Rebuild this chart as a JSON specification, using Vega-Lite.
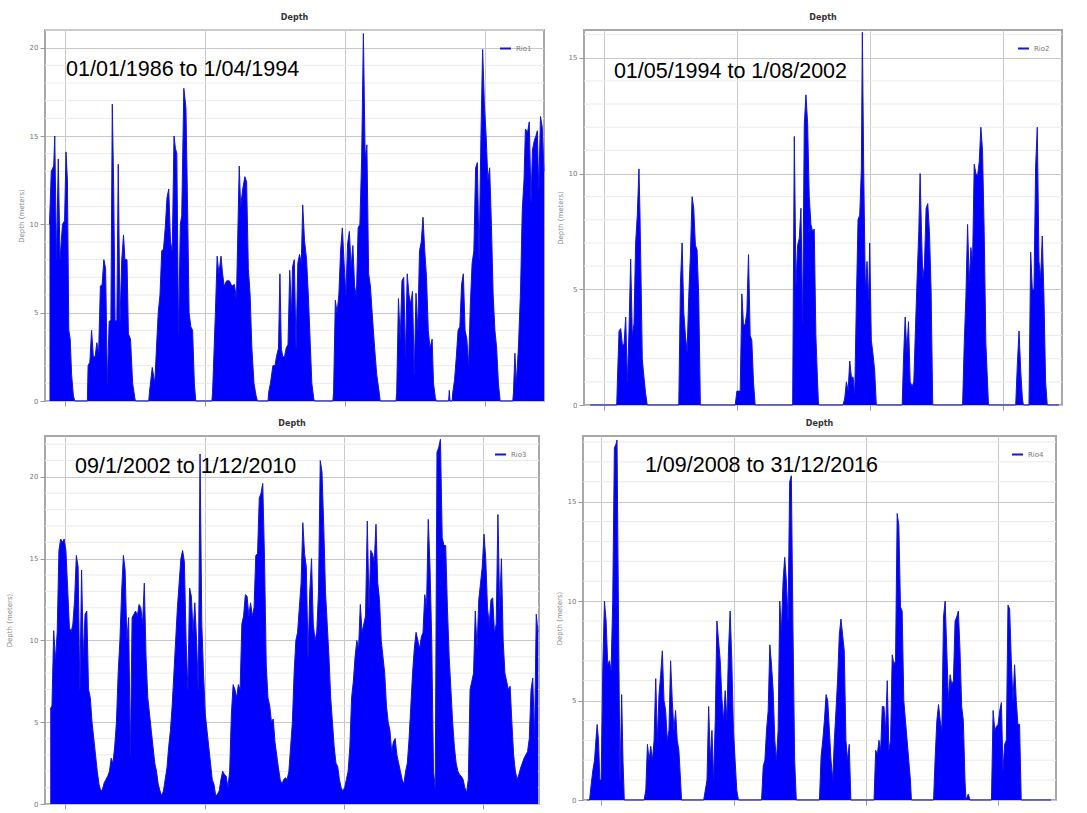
{
"$schema": "https://vega.github.io/schema/vega-lite/v6.json",
"padding": {"left": 4, "top": 12, "right": 5, "bottom": 0},
"background": "white",
"config": {
  "font": "DejaVu Sans",
  "view": {"stroke": "#a8a8a8", "strokeWidth": 2},
  "axis": {"labelFontSize": 7, "labelColor": "#777", "titleFontSize": 7, "titleFontWeight": "normal", "titleColor": "#888", "tickColor": "#999", "domain": false, "labelPadding": 2, "titlePadding": 5, "gridColor": "#c8c8c8", "tickSize": 5},
  "title": {"fontSize": 8, "fontWeight": "bold", "color": "#333", "offset": 8},
  "legend": {"labelFontSize": 7, "labelColor": "#777", "symbolType": "stroke", "symbolStrokeWidth": 2, "symbolSize": 120, "offset": 9, "padding": 3}
},
"datasets": {
"g1": [{"g":1},{"g":2},{"g":3},{"g":4},{"g":6},{"g":7},{"g":8},{"g":9},{"g":11},{"g":12},{"g":13},{"g":14},{"g":16},{"g":17},{"g":18},{"g":19},{"g":21}],
"g2": [{"g":1},{"g":2},{"g":3},{"g":4},{"g":6},{"g":7},{"g":8},{"g":9},{"g":11},{"g":12},{"g":13},{"g":14},{"g":16}],
"g3": [{"g":1},{"g":2},{"g":3},{"g":4},{"g":6},{"g":7},{"g":8},{"g":9},{"g":11},{"g":12},{"g":13},{"g":14},{"g":16},{"g":17},{"g":18},{"g":19},{"g":21},{"g":22}],
"g4": [{"g":1},{"g":2},{"g":3},{"g":4},{"g":6},{"g":7},{"g":8},{"g":9},{"g":11},{"g":12},{"g":13},{"g":14},{"g":16},{"g":17},{"g":18}],
"p1": [{"m":0,"d":10},{"m":0.35,"d":13},{"m":0.84,"d":13.3},{"m":1.05,"d":15},{"m":1.4,"d":8},{"m":1.75,"d":13.7},{"m":2.1,"d":8},{"m":2.59,"d":10},{"m":3.01,"d":10.2},{"m":3.29,"d":14.1},{"m":3.57,"d":12.5},{"m":3.85,"d":4},{"m":4.13,"d":3.5},{"m":4.41,"d":1.5},{"m":4.76,"d":0.3},{"m":5.04,"d":0},
{"m":7.56,"d":0},{"m":7.7,"d":2},{"m":8.05,"d":2.2},{"m":8.4,"d":4},{"m":8.75,"d":2.5},{"m":9.1,"d":2.5},{"m":9.45,"d":3.3},{"m":9.8,"d":2.7},{"m":10.15,"d":6.5},{"m":10.5,"d":6.6},{"m":10.85,"d":8},{"m":11.2,"d":7.5},{"m":11.55,"d":1},{"m":11.9,"d":4.5},{"m":12.25,"d":4.6},{"m":12.53,"d":16.8},{"m":12.81,"d":12},{"m":13.09,"d":4.5},{"m":13.44,"d":4.6},{"m":13.72,"d":13.4},{"m":14.07,"d":4.5},{"m":14.42,"d":8},{"m":14.77,"d":9.4},{"m":15.05,"d":8},{"m":15.47,"d":8},{"m":15.75,"d":3.8},{"m":16.17,"d":3.5},{"m":16.59,"d":1},{"m":17.01,"d":0.2},{"m":17.15,"d":0},
{"m":19.81,"d":0},{"m":19.95,"d":0.5},{"m":20.51,"d":1.9},{"m":21.0,"d":1},{"m":21.35,"d":3},{"m":21.7,"d":5},{"m":22.05,"d":6},{"m":22.4,"d":8.5},{"m":22.75,"d":8.6},{"m":23.1,"d":9.8},{"m":23.45,"d":11.5},{"m":23.8,"d":12},{"m":24.15,"d":9},{"m":24.5,"d":8.5},{"m":24.85,"d":15},{"m":25.13,"d":14.3},{"m":25.41,"d":14},{"m":25.76,"d":3.8},{"m":26.11,"d":10},{"m":26.39,"d":10.5},{"m":26.81,"d":17.7},{"m":27.23,"d":16.6},{"m":27.51,"d":11.9},{"m":27.86,"d":5},{"m":28.21,"d":4.2},{"m":28.56,"d":4},{"m":28.91,"d":1},{"m":29.19,"d":0},
{"m":32.41,"d":0},{"m":32.55,"d":0.5},{"m":33.11,"d":5},{"m":33.46,"d":8.2},{"m":33.81,"d":7.2},{"m":34.23,"d":8.2},{"m":34.51,"d":7.3},{"m":34.86,"d":6.5},{"m":35.35,"d":6.8},{"m":35.91,"d":6.8},{"m":36.4,"d":6.5},{"m":36.89,"d":6.6},{"m":37.31,"d":5.8},{"m":37.87,"d":13.3},{"m":38.15,"d":11},{"m":38.57,"d":12},{"m":38.99,"d":12.7},{"m":39.34,"d":12.4},{"m":39.69,"d":7.5},{"m":40.04,"d":6},{"m":40.39,"d":3},{"m":40.81,"d":1},{"m":41.23,"d":0.3},{"m":41.51,"d":0},
{"m":43.61,"d":0},{"m":43.75,"d":0.5},{"m":44.1,"d":1},{"m":44.59,"d":2},{"m":45.01,"d":2},{"m":45.29,"d":2.5},{"m":45.71,"d":3},{"m":45.99,"d":7.2},{"m":46.27,"d":3},{"m":46.55,"d":2.5},{"m":46.9,"d":2.5},{"m":47.25,"d":3},{"m":47.6,"d":3.2},{"m":47.95,"d":7.4},{"m":48.3,"d":5},{"m":48.51,"d":7.6},{"m":48.86,"d":8},{"m":49.21,"d":3},{"m":49.56,"d":7.8},{"m":49.91,"d":8.3},{"m":50.26,"d":7.8},{"m":50.54,"d":11.1},{"m":50.89,"d":9.1},{"m":51.31,"d":8},{"m":51.66,"d":6},{"m":52.01,"d":3.5},{"m":52.36,"d":1},{"m":52.71,"d":0.2},{"m":52.85,"d":0},
{"m":56.56,"d":0},{"m":56.7,"d":0.5},{"m":57.05,"d":5.7},{"m":57.4,"d":5},{"m":57.75,"d":6},{"m":58.1,"d":8.5},{"m":58.45,"d":9.8},{"m":58.8,"d":7.8},{"m":59.15,"d":6},{"m":59.5,"d":8.9},{"m":59.85,"d":9.6},{"m":60.2,"d":7.6},{"m":60.55,"d":8.8},{"m":60.9,"d":6.5},{"m":61.25,"d":5.9},{"m":61.6,"d":9.8},{"m":61.95,"d":10},{"m":62.3,"d":13.7},{"m":62.65,"d":20.8},{"m":63.0,"d":13.8},{"m":63.35,"d":14.5},{"m":63.7,"d":7.2},{"m":64.05,"d":6.5},{"m":64.4,"d":5},{"m":64.89,"d":3},{"m":65.31,"d":1.5},{"m":65.8,"d":0.5},{"m":66.01,"d":0},
{"m":69.16,"d":0},{"m":69.3,"d":0.5},{"m":69.65,"d":5.8},{"m":70.0,"d":3.5},{"m":70.35,"d":6.8},{"m":70.7,"d":7},{"m":71.05,"d":2.5},{"m":71.4,"d":7.2},{"m":71.75,"d":6},{"m":72.1,"d":5.5},{"m":72.45,"d":6.2},{"m":72.8,"d":1.5},{"m":73.15,"d":6.1},{"m":73.5,"d":4},{"m":73.85,"d":8.5},{"m":74.2,"d":9},{"m":74.55,"d":10.4},{"m":74.9,"d":8.5},{"m":75.25,"d":7},{"m":75.6,"d":4},{"m":75.95,"d":3},{"m":76.37,"d":3.5},{"m":76.65,"d":1},{"m":77.0,"d":0.2},{"m":77.21,"d":0},
{"m":79.66,"d":0},{"m":79.8,"d":0.6},{"m":79.94,"d":0},{"m":80.36,"d":0},{"m":80.5,"d":0.5},{"m":80.85,"d":1.2},{"m":81.2,"d":2.5},{"m":81.55,"d":4},{"m":81.9,"d":4.2},{"m":82.25,"d":6.6},{"m":82.6,"d":7.2},{"m":82.95,"d":4},{"m":83.3,"d":3.5},{"m":83.65,"d":2},{"m":84.0,"d":5.5},{"m":84.35,"d":7.8},{"m":84.7,"d":8.5},{"m":85.05,"d":13.2},{"m":85.4,"d":13.5},{"m":85.75,"d":8},{"m":86.1,"d":14.8},{"m":86.45,"d":19.9},{"m":86.8,"d":16.8},{"m":87.15,"d":15},{"m":87.5,"d":12.5},{"m":87.85,"d":13.2},{"m":88.2,"d":10},{"m":88.55,"d":6},{"m":88.9,"d":4},{"m":89.25,"d":3},{"m":89.6,"d":1},{"m":89.95,"d":0},
{"m":92.47,"d":0},{"m":92.61,"d":0.5},{"m":92.89,"d":2.7},{"m":93.17,"d":1},{"m":93.59,"d":3},{"m":94.01,"d":6.2},{"m":94.36,"d":10.8},{"m":94.71,"d":12.5},{"m":94.99,"d":15.4},{"m":95.41,"d":15.2},{"m":95.76,"d":15.8},{"m":96.11,"d":11.3},{"m":96.39,"d":14.2},{"m":96.81,"d":14.8},{"m":97.09,"d":15},{"m":97.37,"d":15.3},{"m":97.65,"d":12},{"m":98.0,"d":16.1},{"m":98.35,"d":15.5},{"m":98.7,"d":13}],
"p2": [{"m":0,"d":0},{"m":5.6,"d":0},{"m":5.74,"d":1},{"m":6.09,"d":3.2},{"m":6.44,"d":3.3},{"m":6.79,"d":2.6},{"m":7.14,"d":2.6},{"m":7.49,"d":3.8},{"m":7.84,"d":1},{"m":8.19,"d":3.2},{"m":8.54,"d":6.3},{"m":8.89,"d":3},{"m":9.24,"d":3.5},{"m":9.59,"d":7},{"m":9.94,"d":8.2},{"m":10.29,"d":10.2},{"m":10.5,"d":8.3},{"m":10.78,"d":4.8},{"m":10.99,"d":2},{"m":11.34,"d":1.2},{"m":11.69,"d":0.5},{"m":12.04,"d":0},
{"m":18.69,"d":0},{"m":19.04,"d":5.3},{"m":19.39,"d":7},{"m":19.74,"d":4},{"m":20.09,"d":3},{"m":20.44,"d":2.3},{"m":20.79,"d":4.7},{"m":21.14,"d":6.5},{"m":21.49,"d":9},{"m":21.84,"d":8.5},{"m":22.19,"d":6.9},{"m":22.54,"d":6.7},{"m":22.89,"d":4.7},{"m":23.24,"d":0},
{"m":30.59,"d":0},{"m":30.94,"d":0.6},{"m":31.29,"d":0.6},{"m":31.64,"d":0.6},{"m":31.99,"d":4.8},{"m":32.34,"d":3.4},{"m":32.69,"d":3.5},{"m":33.04,"d":4},{"m":33.39,"d":6.5},{"m":33.74,"d":3},{"m":34.09,"d":2.8},{"m":34.44,"d":1},{"m":34.79,"d":0},
{"m":42.7,"d":0},{"m":43.05,"d":11.6},{"m":43.4,"d":5.2},{"m":43.75,"d":6.9},{"m":44.1,"d":7.2},{"m":44.45,"d":8.5},{"m":44.8,"d":3.5},{"m":45.15,"d":12.1},{"m":45.5,"d":13.4},{"m":45.85,"d":12.2},{"m":46.2,"d":9},{"m":46.55,"d":7.8},{"m":46.9,"d":7.5},{"m":47.25,"d":7.6},{"m":47.6,"d":3},{"m":47.95,"d":1},{"m":48.16,"d":0},
{"m":53.34,"d":0},{"m":53.69,"d":0.3},{"m":54.04,"d":1},{"m":54.39,"d":0.6},{"m":54.74,"d":1.9},{"m":55.09,"d":1.2},{"m":55.44,"d":1.2},{"m":55.79,"d":0.5},{"m":56.14,"d":4.5},{"m":56.49,"d":8},{"m":56.84,"d":8.2},{"m":57.19,"d":10.2},{"m":57.4,"d":16.1},{"m":57.68,"d":10.2},{"m":58.03,"d":5},{"m":58.38,"d":6.2},{"m":58.73,"d":4.5},{"m":58.94,"d":7},{"m":59.29,"d":2.8},{"m":59.64,"d":2.2},{"m":59.99,"d":1.5},{"m":60.34,"d":0},
{"m":65.8,"d":0},{"m":66.08,"d":2},{"m":66.43,"d":3.8},{"m":66.78,"d":2.3},{"m":67.13,"d":3.6},{"m":67.48,"d":1},{"m":67.9,"d":0.8},{"m":68.25,"d":1},{"m":68.6,"d":3.3},{"m":68.95,"d":5.5},{"m":69.3,"d":7.5},{"m":69.58,"d":10},{"m":69.86,"d":7.5},{"m":70.14,"d":5.5},{"m":70.49,"d":6},{"m":70.84,"d":8.5},{"m":71.19,"d":8.7},{"m":71.54,"d":7.5},{"m":71.89,"d":5},{"m":72.24,"d":0},
{"m":78.54,"d":0},{"m":78.89,"d":2.7},{"m":79.24,"d":4.7},{"m":79.59,"d":7.8},{"m":79.94,"d":5.3},{"m":80.29,"d":6.8},{"m":80.64,"d":6.2},{"m":80.99,"d":10.4},{"m":81.34,"d":10},{"m":81.69,"d":9.9},{"m":82.04,"d":10.5},{"m":82.39,"d":12},{"m":82.74,"d":11},{"m":83.09,"d":7.5},{"m":83.44,"d":2.7},{"m":83.79,"d":1},{"m":84.0,"d":0},
{"m":89.74,"d":0},{"m":90.09,"d":1.8},{"m":90.44,"d":3.2},{"m":90.79,"d":1.5},{"m":91.14,"d":0.3},{"m":91.35,"d":0},
{"m":92.54,"d":0},{"m":92.89,"d":6.6},{"m":93.24,"d":5},{"m":93.59,"d":5},{"m":93.94,"d":10.3},{"m":94.29,"d":12},{"m":94.64,"d":6.2},{"m":94.99,"d":5.5},{"m":95.34,"d":7.3},{"m":95.69,"d":4.7},{"m":96.04,"d":1},{"m":96.39,"d":0},{"m":98.84,"d":0}],
"p3": [{"m":0,"d":5.8},{"m":0.35,"d":6},{"m":0.7,"d":10.6},{"m":1.05,"d":8.8},{"m":1.4,"d":10.5},{"m":1.75,"d":15.5},{"m":2.1,"d":16.2},{"m":2.45,"d":16},{"m":2.8,"d":16.2},{"m":3.15,"d":15.5},{"m":3.5,"d":13.2},{"m":3.85,"d":10.8},{"m":4.2,"d":10.5},{"m":4.55,"d":11},{"m":4.9,"d":12.5},{"m":5.25,"d":15.2},{"m":5.6,"d":14.5},{"m":5.95,"d":7},{"m":6.3,"d":14.3},{"m":6.65,"d":9},{"m":7.0,"d":11.6},{"m":7.35,"d":11.8},{"m":7.7,"d":7},{"m":8.05,"d":6.5},{"m":8.4,"d":5},{"m":8.75,"d":4},{"m":9.1,"d":3},{"m":9.45,"d":2},{"m":9.8,"d":1.2},{"m":10.15,"d":0.8},{"m":10.5,"d":0.9},{"m":10.85,"d":1.3},{"m":11.2,"d":1.5},{"m":11.55,"d":1.7},{"m":11.9,"d":2},{"m":12.25,"d":2.8},{"m":12.6,"d":2.5},{"m":12.95,"d":3.5},{"m":13.3,"d":5},{"m":13.65,"d":8},{"m":14.0,"d":10},{"m":14.35,"d":13},{"m":14.7,"d":15.2},{"m":15.05,"d":14.3},{"m":15.4,"d":10},{"m":15.75,"d":11.4},{"m":16.1,"d":3},{"m":16.45,"d":11.4},{"m":16.8,"d":11.6},{"m":17.15,"d":11.8},{"m":17.5,"d":11.5},{"m":17.85,"d":12.2},{"m":18.2,"d":12},{"m":18.55,"d":11},{"m":18.9,"d":13.5},{"m":19.25,"d":9},{"m":19.6,"d":6.5},{"m":19.95,"d":5.5},{"m":20.3,"d":4.5},{"m":20.65,"d":3.5},{"m":21.0,"d":2.5},{"m":21.35,"d":2},{"m":21.7,"d":1.2},{"m":22.05,"d":0.8},{"m":22.4,"d":0.5},{"m":22.75,"d":0.8},{"m":23.1,"d":1.5},{"m":23.45,"d":2.2},{"m":23.8,"d":3.5},{"m":24.15,"d":4.5},{"m":24.5,"d":6},{"m":24.85,"d":8},{"m":25.2,"d":10},{"m":25.55,"d":12},{"m":25.9,"d":13.5},{"m":26.25,"d":15},{"m":26.6,"d":15.5},{"m":26.95,"d":14.8},{"m":27.3,"d":10},{"m":27.65,"d":7},{"m":28.0,"d":13.2},{"m":28.35,"d":12.7},{"m":28.7,"d":10.5},{"m":29.05,"d":12.3},{"m":29.4,"d":10},{"m":29.75,"d":7},{"m":30.1,"d":21.4},{"m":30.45,"d":11},{"m":30.8,"d":8},{"m":31.15,"d":5.5},{"m":31.5,"d":4.5},{"m":31.85,"d":3.5},{"m":32.2,"d":2.5},{"m":32.55,"d":1.5},{"m":32.9,"d":1.2},{"m":33.25,"d":0.5},{"m":33.6,"d":0.6},{"m":33.95,"d":0.8},{"m":34.3,"d":1.5},{"m":34.65,"d":2},{"m":35.0,"d":1.8},{"m":35.35,"d":1.7},{"m":35.7,"d":1},{"m":36.05,"d":2},{"m":36.4,"d":5.5},{"m":36.75,"d":7.3},{"m":37.1,"d":7},{"m":37.45,"d":6.5},{"m":37.8,"d":7.3},{"m":38.15,"d":7},{"m":38.5,"d":11},{"m":38.85,"d":11.5},{"m":39.2,"d":12.8},{"m":39.55,"d":12.7},{"m":39.9,"d":11.5},{"m":40.25,"d":12.3},{"m":40.6,"d":11.5},{"m":40.95,"d":12},{"m":41.3,"d":15.2},{"m":41.65,"d":15.3},{"m":42.0,"d":18.7},{"m":42.35,"d":19},{"m":42.7,"d":19.6},{"m":43.05,"d":15},{"m":43.4,"d":8.5},{"m":43.75,"d":6.5},{"m":44.1,"d":6},{"m":44.45,"d":5},{"m":44.8,"d":5.2},{"m":45.15,"d":3.8},{"m":45.5,"d":3},{"m":45.85,"d":2.2},{"m":46.2,"d":1.5},{"m":46.55,"d":1.2},{"m":46.9,"d":1.5},{"m":47.25,"d":1.6},{"m":47.6,"d":1.5},{"m":47.95,"d":2},{"m":48.3,"d":3.5},{"m":48.65,"d":5},{"m":49.0,"d":8},{"m":49.35,"d":10},{"m":49.7,"d":10.5},{"m":50.05,"d":12},{"m":50.4,"d":13.5},{"m":50.75,"d":17.2},{"m":51.1,"d":15.3},{"m":51.45,"d":14.5},{"m":51.8,"d":9},{"m":52.15,"d":13},{"m":52.5,"d":15},{"m":52.85,"d":11},{"m":53.2,"d":10},{"m":53.55,"d":10.5},{"m":53.9,"d":13},{"m":54.25,"d":21},{"m":54.6,"d":20.3},{"m":54.95,"d":17},{"m":55.3,"d":13},{"m":55.65,"d":11},{"m":56.0,"d":9},{"m":56.35,"d":6.5},{"m":56.7,"d":5},{"m":57.05,"d":3.5},{"m":57.4,"d":2.5},{"m":57.75,"d":2.3},{"m":58.1,"d":1.5},{"m":58.45,"d":1},{"m":58.8,"d":0.8},{"m":59.15,"d":1},{"m":59.5,"d":1.5},{"m":59.85,"d":2},{"m":60.2,"d":3.5},{"m":60.55,"d":6.5},{"m":60.9,"d":7.5},{"m":61.25,"d":9},{"m":61.6,"d":10},{"m":61.95,"d":9.5},{"m":62.3,"d":12.2},{"m":62.65,"d":10.5},{"m":63.0,"d":11},{"m":63.35,"d":11.5},{"m":63.7,"d":17.3},{"m":64.05,"d":12},{"m":64.4,"d":15.5},{"m":64.75,"d":15.3},{"m":65.1,"d":14.8},{"m":65.45,"d":17.1},{"m":65.8,"d":13.5},{"m":66.15,"d":12.5},{"m":66.5,"d":10},{"m":66.85,"d":9},{"m":67.2,"d":8},{"m":67.55,"d":6},{"m":67.9,"d":5},{"m":68.25,"d":4.5},{"m":68.6,"d":3.2},{"m":68.95,"d":3.8},{"m":69.3,"d":4},{"m":69.65,"d":3},{"m":70.0,"d":2.5},{"m":70.35,"d":2},{"m":70.7,"d":1.5},{"m":71.05,"d":1.2},{"m":71.4,"d":2},{"m":71.75,"d":2.5},{"m":72.1,"d":4},{"m":72.45,"d":6},{"m":72.8,"d":8},{"m":73.15,"d":9.5},{"m":73.5,"d":10.5},{"m":73.85,"d":10},{"m":74.2,"d":9.5},{"m":74.55,"d":10.2},{"m":74.9,"d":10.5},{"m":75.25,"d":12.8},{"m":75.6,"d":12},{"m":75.95,"d":17.4},{"m":76.3,"d":14.5},{"m":76.65,"d":10},{"m":77.0,"d":2},{"m":77.35,"d":1},{"m":77.7,"d":21.5},{"m":78.05,"d":21.8},{"m":78.4,"d":22.3},{"m":78.75,"d":16.3},{"m":79.1,"d":15.8},{"m":79.45,"d":15.8},{"m":79.8,"d":12},{"m":80.15,"d":9},{"m":80.5,"d":7},{"m":80.85,"d":5},{"m":81.2,"d":3.5},{"m":81.55,"d":2.5},{"m":81.9,"d":2},{"m":82.25,"d":1.8},{"m":82.6,"d":1.7},{"m":82.95,"d":1.5},{"m":83.3,"d":1},{"m":83.65,"d":0.7},{"m":84.0,"d":1.5},{"m":84.35,"d":7},{"m":84.7,"d":7.5},{"m":85.05,"d":8},{"m":85.4,"d":11.8},{"m":85.75,"d":9.5},{"m":86.1,"d":12.5},{"m":86.45,"d":13.5},{"m":86.8,"d":14.5},{"m":87.15,"d":16.5},{"m":87.5,"d":15},{"m":87.85,"d":12},{"m":88.2,"d":11},{"m":88.55,"d":12.5},{"m":88.9,"d":12.6},{"m":89.25,"d":10.5},{"m":89.6,"d":11},{"m":89.95,"d":17.7},{"m":90.3,"d":12},{"m":90.65,"d":15},{"m":91.0,"d":10},{"m":91.35,"d":8},{"m":91.7,"d":7.5},{"m":92.05,"d":7},{"m":92.4,"d":7.2},{"m":92.75,"d":5},{"m":93.1,"d":3},{"m":93.45,"d":2},{"m":93.8,"d":1.5},{"m":94.15,"d":1.8},{"m":94.5,"d":2.2},{"m":94.85,"d":2.5},{"m":95.2,"d":2.8},{"m":95.55,"d":3},{"m":95.9,"d":3.2},{"m":96.25,"d":4},{"m":96.6,"d":7},{"m":96.95,"d":7.7},{"m":97.3,"d":4},{"m":97.65,"d":11.6},{"m":98.0,"d":10.5}],
"p4": [{"m":0,"d":0},{"m":0.49,"d":0},{"m":0.84,"d":0.8},{"m":1.19,"d":1.5},{"m":1.54,"d":2},{"m":1.89,"d":3.2},{"m":2.1,"d":3.8},{"m":2.38,"d":3},{"m":2.66,"d":1},{"m":2.94,"d":1},{"m":3.29,"d":6.7},{"m":3.64,"d":10},{"m":3.99,"d":9},{"m":4.34,"d":6.8},{"m":4.69,"d":7},{"m":5.04,"d":6.5},{"m":5.39,"d":10},{"m":5.74,"d":17.7},{"m":6.09,"d":17.9},{"m":6.3,"d":18.1},{"m":6.58,"d":10},{"m":6.93,"d":1},{"m":7.28,"d":5.3},{"m":7.56,"d":2},{"m":7.84,"d":0},
{"m":12.04,"d":0},{"m":12.39,"d":0.5},{"m":12.74,"d":2.8},{"m":13.09,"d":2},{"m":13.44,"d":2.7},{"m":13.79,"d":2},{"m":14.14,"d":3},{"m":14.49,"d":6.1},{"m":14.84,"d":3},{"m":15.19,"d":5.3},{"m":15.54,"d":6.3},{"m":15.89,"d":7.5},{"m":16.24,"d":5},{"m":16.59,"d":4.5},{"m":16.94,"d":3},{"m":17.29,"d":3.5},{"m":17.64,"d":7},{"m":17.99,"d":5},{"m":18.34,"d":3.5},{"m":18.69,"d":4.5},{"m":19.04,"d":3},{"m":19.39,"d":2.5},{"m":19.74,"d":1},{"m":19.95,"d":0},
{"m":24.64,"d":0},{"m":24.99,"d":0.5},{"m":25.34,"d":1},{"m":25.69,"d":4.7},{"m":26.04,"d":2},{"m":26.39,"d":3.5},{"m":26.74,"d":1},{"m":27.09,"d":4},{"m":27.44,"d":9},{"m":27.79,"d":8},{"m":28.14,"d":7},{"m":28.49,"d":5.1},{"m":28.84,"d":4},{"m":29.19,"d":5.5},{"m":29.54,"d":4},{"m":29.89,"d":7.5},{"m":30.24,"d":9.5},{"m":30.59,"d":7},{"m":30.94,"d":3.5},{"m":31.29,"d":2},{"m":31.64,"d":0.5},{"m":31.99,"d":0},
{"m":36.89,"d":0},{"m":37.24,"d":1.7},{"m":37.59,"d":2},{"m":37.94,"d":3.5},{"m":38.29,"d":4.5},{"m":38.64,"d":7.8},{"m":38.99,"d":6.8},{"m":39.34,"d":5.5},{"m":39.69,"d":3},{"m":40.04,"d":2},{"m":40.39,"d":3.5},{"m":40.74,"d":10},{"m":41.09,"d":8.5},{"m":41.44,"d":11},{"m":41.79,"d":12.2},{"m":42.14,"d":11},{"m":42.49,"d":9},{"m":42.84,"d":16},{"m":43.19,"d":16.3},{"m":43.54,"d":8.5},{"m":43.89,"d":2},{"m":44.24,"d":0},
{"m":49.14,"d":0},{"m":49.49,"d":2.2},{"m":49.84,"d":3},{"m":50.19,"d":4},{"m":50.54,"d":5.3},{"m":50.89,"d":5},{"m":51.24,"d":3.5},{"m":51.59,"d":2},{"m":51.94,"d":1},{"m":52.29,"d":3},{"m":52.64,"d":4.5},{"m":52.99,"d":6.1},{"m":53.34,"d":8.3},{"m":53.69,"d":9.1},{"m":54.04,"d":8.3},{"m":54.39,"d":7.5},{"m":54.74,"d":3},{"m":55.09,"d":2},{"m":55.44,"d":2.8},{"m":55.79,"d":0},
{"m":60.69,"d":0},{"m":61.04,"d":2.5},{"m":61.39,"d":2.3},{"m":61.74,"d":3},{"m":62.09,"d":2.5},{"m":62.44,"d":4.7},{"m":62.79,"d":4.7},{"m":63.14,"d":3.5},{"m":63.49,"d":6},{"m":63.84,"d":2.5},{"m":64.19,"d":3},{"m":64.54,"d":7.3},{"m":64.89,"d":6.8},{"m":65.24,"d":7},{"m":65.59,"d":14.4},{"m":65.94,"d":13.8},{"m":66.29,"d":9.7},{"m":66.64,"d":9.5},{"m":66.99,"d":5},{"m":67.34,"d":4},{"m":67.69,"d":3},{"m":68.04,"d":2},{"m":68.39,"d":1},{"m":68.6,"d":0},
{"m":73.29,"d":0},{"m":73.64,"d":2.2},{"m":73.99,"d":4},{"m":74.34,"d":4.8},{"m":74.69,"d":4},{"m":75.04,"d":3.5},{"m":75.39,"d":9.2},{"m":75.74,"d":10},{"m":76.09,"d":7.5},{"m":76.44,"d":5},{"m":76.79,"d":6.3},{"m":77.14,"d":5.8},{"m":77.49,"d":6},{"m":77.84,"d":9},{"m":78.19,"d":9.2},{"m":78.54,"d":9.5},{"m":78.89,"d":7.5},{"m":79.24,"d":4.7},{"m":79.59,"d":4},{"m":79.94,"d":1},{"m":80.15,"d":0},{"m":80.64,"d":0.3},{"m":80.99,"d":0},
{"m":85.54,"d":0},{"m":85.89,"d":4.5},{"m":86.24,"d":3.5},{"m":86.59,"d":3.7},{"m":86.94,"d":3.8},{"m":87.29,"d":4.5},{"m":87.64,"d":4.9},{"m":87.99,"d":1.5},{"m":88.34,"d":2.8},{"m":88.69,"d":3},{"m":89.04,"d":9.8},{"m":89.39,"d":9.6},{"m":89.74,"d":7},{"m":90.09,"d":5},{"m":90.44,"d":6.8},{"m":90.79,"d":5},{"m":91.14,"d":3.8},{"m":91.49,"d":3.8},{"m":91.84,"d":0},{"m":98.14,"d":0}]
},
"spacing": 7,
"resolve": {"scale": {"color": "independent"}, "legend": {"color": "independent"}},
"vconcat": [
 {"hconcat": [
  {"width": 499, "height": 371, "title": "Depth",
   "layer": [
    {"data": {"name": "g1"}, "mark": {"type": "rule", "color": "#ebebeb", "strokeWidth": 1}, "encoding": {"y": {"field": "g", "type": "quantitative"}}},
    {"data": {"name": "p1"}, "mark": {"type": "area", "color": "#0000ff", "opacity": 1},
     "encoding": {"x": {"field": "m", "type": "quantitative", "scale": {"domain": [-0.9, 98.7], "nice": false, "zero": false}, "axis": {"values": [3, 31, 59, 87], "labels": false, "title": null, "grid": true}},
                  "y": {"field": "d", "type": "quantitative", "scale": {"domain": [0, 21], "nice": false}, "axis": {"values": [0, 5, 10, 15, 20], "title": "Depth (meters)", "grid": true}}}},
    {"data": {"name": "p1"}, "mark": {"type": "line", "strokeWidth": 1},
     "encoding": {"x": {"field": "m", "type": "quantitative"}, "y": {"field": "d", "type": "quantitative"},
                  "color": {"datum": "Rio1", "type": "nominal", "scale": {"range": ["#1414d2"]}, "legend": {"orient": "top-right", "title": null}}}},
    {"data": {"values": [{}]}, "mark": {"type": "text", "font": "Liberation Sans", "fontSize": 21.5, "align": "left", "baseline": "middle", "color": "black"},
     "encoding": {"x": {"datum": 3.3, "type": "quantitative"}, "y": {"datum": 18.75, "type": "quantitative"}, "text": {"value": "01/01/1986 to 1/04/1994"}}}
   ]},
  {"width": 478, "height": 375, "title": "Depth",
   "layer": [
    {"data": {"name": "g2"}, "mark": {"type": "rule", "color": "#ebebeb", "strokeWidth": 1}, "encoding": {"y": {"field": "g", "type": "quantitative"}}},
    {"data": {"name": "p2"}, "mark": {"type": "area", "color": "#0000ff", "opacity": 1},
     "encoding": {"x": {"field": "m", "type": "quantitative", "scale": {"domain": [-1.3, 99.5], "nice": false, "zero": false}, "axis": {"values": [3, 31, 59, 87], "labels": false, "title": null, "grid": true}},
                  "y": {"field": "d", "type": "quantitative", "scale": {"domain": [0, 16.2], "nice": false}, "axis": {"values": [0, 5, 10, 15], "title": "Depth (meters)", "grid": true}}}},
    {"data": {"name": "p2"}, "mark": {"type": "line", "strokeWidth": 1},
     "encoding": {"x": {"field": "m", "type": "quantitative"}, "y": {"field": "d", "type": "quantitative"},
                  "color": {"datum": "Rio2", "type": "nominal", "scale": {"range": ["#1414d2"]}, "legend": {"orient": "top-right", "title": null}}}},
    {"data": {"values": [{}]}, "mark": {"type": "text", "font": "Liberation Sans", "fontSize": 21.5, "align": "left", "baseline": "middle", "color": "black"},
     "encoding": {"x": {"datum": 5.0, "type": "quantitative"}, "y": {"datum": 14.4, "type": "quantitative"}, "text": {"value": "01/05/1994 to 1/08/2002"}}}
   ]}
 ], "spacing": 8, "resolve": {"scale": {"color": "independent"}, "legend": {"color": "independent"}}},
 {"hconcat": [
  {"width": 494, "height": 368, "title": "Depth",
   "layer": [
    {"data": {"name": "g3"}, "mark": {"type": "rule", "color": "#ebebeb", "strokeWidth": 1}, "encoding": {"y": {"field": "g", "type": "quantitative"}}},
    {"data": {"name": "p3"}, "mark": {"type": "area", "color": "#0000ff", "opacity": 1},
     "encoding": {"x": {"field": "m", "type": "quantitative", "scale": {"domain": [-1.05, 98.2], "nice": false, "zero": false}, "axis": {"values": [3, 31, 59, 87], "labels": false, "title": null, "grid": true}},
                  "y": {"field": "d", "type": "quantitative", "scale": {"domain": [0, 22.5], "nice": false}, "axis": {"values": [0, 5, 10, 15, 20], "title": "Depth (meters)", "titlePadding": 17, "grid": true}}}},
    {"data": {"name": "p3"}, "mark": {"type": "line", "strokeWidth": 1},
     "encoding": {"x": {"field": "m", "type": "quantitative"}, "y": {"field": "d", "type": "quantitative"},
                  "color": {"datum": "Rio3", "type": "nominal", "scale": {"range": ["#1414d2"]}, "legend": {"orient": "top-right", "title": null}}}},
    {"data": {"values": [{}]}, "mark": {"type": "text", "font": "Liberation Sans", "fontSize": 21.5, "align": "left", "baseline": "middle", "color": "black"},
     "encoding": {"x": {"datum": 5.0, "type": "quantitative"}, "y": {"datum": 20.6, "type": "quantitative"}, "text": {"value": "09/1/2002 to 1/12/2010"}}}
   ]},
  {"width": 473, "height": 364, "title": "Depth",
   "layer": [
    {"data": {"name": "g4"}, "mark": {"type": "rule", "color": "#ebebeb", "strokeWidth": 1}, "encoding": {"y": {"field": "g", "type": "quantitative"}}},
    {"data": {"name": "p4"}, "mark": {"type": "area", "color": "#0000ff", "opacity": 1},
     "encoding": {"x": {"field": "m", "type": "quantitative", "scale": {"domain": [-0.9, 99.2], "nice": false, "zero": false}, "axis": {"values": [3, 31, 59, 87], "labels": false, "title": null, "grid": true}},
                  "y": {"field": "d", "type": "quantitative", "scale": {"domain": [0, 18.3], "nice": false}, "axis": {"values": [0, 5, 10, 15], "title": "Depth (meters)", "grid": true}}}},
    {"data": {"name": "p4"}, "mark": {"type": "line", "strokeWidth": 1},
     "encoding": {"x": {"field": "m", "type": "quantitative"}, "y": {"field": "d", "type": "quantitative"},
                  "color": {"datum": "Rio4", "type": "nominal", "scale": {"range": ["#1414d2"]}, "legend": {"orient": "top-right", "title": null}}}},
    {"data": {"values": [{}]}, "mark": {"type": "text", "font": "Liberation Sans", "fontSize": 21.5, "align": "left", "baseline": "middle", "color": "black"},
     "encoding": {"x": {"datum": 12.2, "type": "quantitative"}, "y": {"datum": 16.8, "type": "quantitative"}, "text": {"value": "1/09/2008 to 31/12/2016"}}}
   ]}
 ], "spacing": 12, "resolve": {"scale": {"color": "independent"}, "legend": {"color": "independent"}}}
]
}
